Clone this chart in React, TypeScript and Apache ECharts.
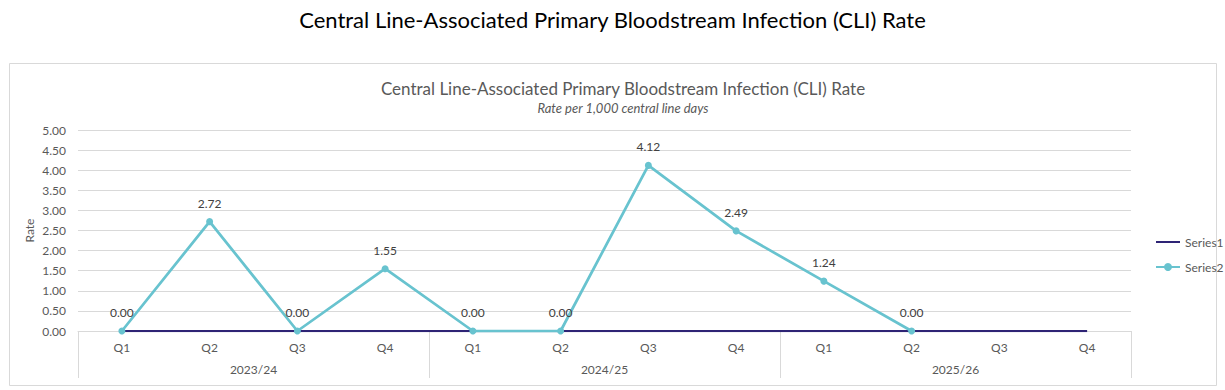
import React, { useEffect, useRef } from "react";
import * as echarts from "echarts";

const quarters = ["Q1", "Q2", "Q3", "Q4", "Q1", "Q2", "Q3", "Q4", "Q1", "Q2", "Q3", "Q4"];
const years = ["2023/24", "2024/25", "2025/26"];
const series1 = [0, 0, 0, 0, 0, 0, 0, 0, 0, 0, 0, 0];
const series2: (number | null)[] = [0, 2.72, 0, 1.55, 0, 0, 4.12, 2.49, 1.24, 0, null, null];
const yTicks = { min: 0, max: 5, interval: 0.5 };

const FONT = "Lato, 'Open Sans', sans-serif";

export default function App() {
  const ref = useRef<HTMLDivElement>(null);
  useEffect(() => {
    if (!ref.current) return;
    const chart = echarts.init(ref.current, undefined, { renderer: "svg" });
    chart.setOption({
      animation: false,
      textStyle: { fontFamily: FONT },
      title: [
        {
          text: "Central Line-Associated Primary Bloodstream Infection (CLI) Rate",
          left: "center",
          top: 3,
          textStyle: { fontSize: 22, fontWeight: "normal", color: "#000", fontFamily: FONT },
        },
        {
          text: "Central Line-Associated Primary Bloodstream Infection (CLI) Rate",
          subtext: "Rate per 1,000 central line days",
          left: 618,
          textAlign: "center",
          top: 75,
          itemGap: 4,
          textStyle: { fontSize: 17, fontWeight: "normal", color: "#595959", fontFamily: FONT },
          subtextStyle: { fontSize: 13, fontStyle: "italic", color: "#595959", fontFamily: FONT },
        },
      ],
      graphic: [
        {
          type: "rect",
          shape: { x: 9.5, y: 63.5, width: 1207, height: 322 },
          style: { fill: "none", stroke: "#d9d9d9", lineWidth: 1 },
          silent: true,
        },
      ],
      legend: {
        orient: "vertical",
        left: 1150,
        top: 231,
        itemWidth: 24,
        itemHeight: 10,
        itemGap: 13,
        textStyle: { fontSize: 12, color: "#595959", fontFamily: FONT },
        data: [{ name: "Series1", itemStyle: { opacity: 0 } }, { name: "Series2" }],
      },
      grid: { left: 78, right: 94, top: 130, bottom: 59, containLabel: false },
      xAxis: [
        {
          type: "category",
          data: quarters,
          position: "bottom",
          axisLine: { show: true, lineStyle: { color: "#d9d9d9", width: 1 } },
          axisTick: { show: false },
          axisLabel: { color: "#595959", fontSize: 12, margin: 10, interval: 0 },
        },
        {
          type: "category",
          data: years,
          position: "bottom",
          gridIndex: 0,
          axisLine: { show: false },
          axisTick: { show: true, length: 47, lineStyle: { color: "#d9d9d9", width: 1 } },
          axisLabel: { color: "#595959", fontSize: 12, margin: 32 },
        },
      ],
      yAxis: {
        type: "value",
        min: yTicks.min,
        max: yTicks.max,
        interval: yTicks.interval,
        name: "Rate",
        nameLocation: "middle",
        nameGap: 43,
        nameMoveOverlap: false,
        nameRotate: 90,
        nameTextStyle: { color: "#595959", fontSize: 12, fontFamily: FONT },
        axisLine: { show: false },
        axisTick: { show: false },
        axisLabel: { color: "#595959", fontSize: 12, margin: 12, formatter: (v: number) => v.toFixed(2) },
        splitLine: { lineStyle: { color: "#d9d9d9", width: 1 } },
      },
      series: [
        {
          name: "Series1",
          type: "line",
          data: series1,
          symbol: "none",
          lineStyle: { color: "#2E2475", width: 2.25 },
          itemStyle: { color: "#2E2475" },
          z: 3,
        },
        {
          name: "Series2",
          type: "line",
          data: series2,
          symbol: "circle",
          symbolSize: 7,
          lineStyle: { color: "#68C3CF", width: 2.75 },
          itemStyle: { color: "#68C3CF" },
          label: {
            show: true,
            position: "top",
            distance: 9,
            color: "#404040",
            fontSize: 12,
            fontFamily: FONT,
            formatter: (p: any) => (p.value == null ? "" : Number(p.value).toFixed(2)),
          },
          z: 4,
        },
      ],
    });
    return () => chart.dispose();
  }, []);
  return (
    <div
      ref={ref}
      style={{ position: "fixed", left: 0, top: 0, width: 1225, height: 390, background: "#fff" }}
    />
  );
}
